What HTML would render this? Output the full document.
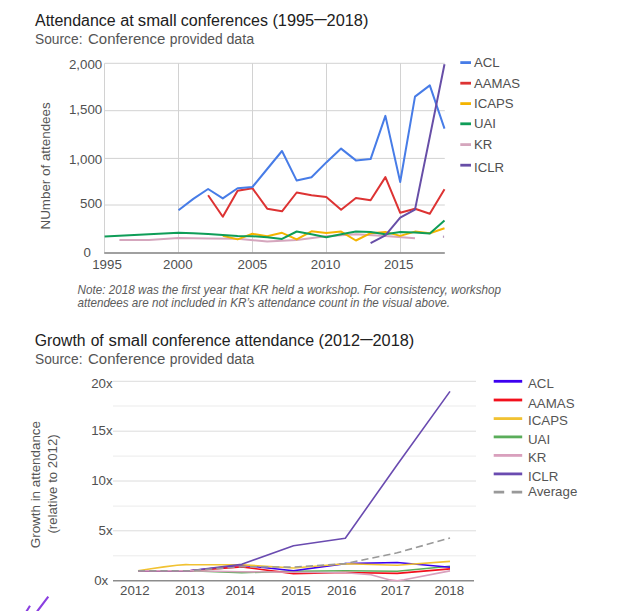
<!DOCTYPE html>
<html><head><meta charset="utf-8"><title>Attendance at small conferences</title>
<style>
html,body{margin:0;padding:0;background:#fff;}
body{width:632px;height:611px;overflow:hidden;position:relative;font-family:"Liberation Sans",sans-serif;}
svg{position:absolute;left:0;top:0;display:block;}
text{font-family:"Liberation Sans",sans-serif;}
.t{font-size:16px;fill:#212121;}
.s{font-size:14px;fill:#555;}
.ax{font-size:13.3px;fill:#505050;}
.lg{font-size:13.2px;fill:#505050;}
.lg2{font-size:13.3px;fill:#555;}
.yt{font-size:12.3px;fill:#555;}
.note{font-size:12.2px;fill:#5c5c5c;font-style:italic;}
.g1{stroke:#d2d2d2;stroke-width:1;fill:none;}
.g2{stroke:#e3e3e3;stroke-width:1;fill:none;}
.ln{fill:none;stroke-width:2;stroke-linejoin:round;stroke-linecap:butt;}
.ln2{fill:none;stroke-width:1.6;stroke-linejoin:round;stroke-linecap:butt;}
</style></head><body>
<svg width="632" height="611" viewBox="0 0 632 611">
<rect width="632" height="611" fill="#fff"/>

<!-- chart 1 titles -->
<text class="t" y="26.2" lengthAdjust="spacingAndGlyphs"><tspan x="35" textLength="80.6" lengthAdjust="spacingAndGlyphs">Attendance</tspan> <tspan x="120.2" textLength="13.6" lengthAdjust="spacingAndGlyphs">at</tspan> <tspan x="137.8" textLength="39" lengthAdjust="spacingAndGlyphs">small</tspan> <tspan x="180.8" textLength="87.2" lengthAdjust="spacingAndGlyphs">conferences</tspan> <tspan x="272.4" textLength="41.8" lengthAdjust="spacingAndGlyphs">(1995</tspan><tspan x="314.2" dy="-1.9" textLength="12.4" lengthAdjust="spacingAndGlyphs">—</tspan><tspan dy="1.9" x="326.6" textLength="41.8" lengthAdjust="spacingAndGlyphs">2018)</tspan></text>
<text class="s" y="44.2"><tspan x="35" textLength="47.5" lengthAdjust="spacingAndGlyphs">Source:</tspan> <tspan x="88" textLength="77.4" lengthAdjust="spacingAndGlyphs">Conference</tspan> <tspan x="169.8" textLength="52.8" lengthAdjust="spacingAndGlyphs">provided</tspan> <tspan x="226.4" textLength="27.8" lengthAdjust="spacingAndGlyphs">data</tspan></text>

<!-- chart 1 grid -->
<g class="g1">
<path d="M104.6 63.3H444.8M104.6 110.7H444.8M104.6 158.4H444.8M104.6 205H444.8"/>
<path d="M104.5 63.3V252.5M178.5 63.3V252.5M252.5 63.3V252.5M326.5 63.3V252.5M400.5 63.3V252.5"/>
</g>
<path d="M104.2 253H444.8" stroke="#808080" stroke-width="1.5" fill="none"/>

<!-- chart 1 y labels -->
<g class="ax" text-anchor="end">
<text x="102.2" y="69">2,000</text>
<text x="102.2" y="113.9">1,500</text>
<text x="102.2" y="164.4">1,000</text>
<text x="102.2" y="207.6">500</text>
<text x="91" y="257.2">0</text>
</g>
<g class="ax" text-anchor="middle">
<text x="107" y="268.8">1995</text>
<text x="177.8" y="268.8">2000</text>
<text x="252.4" y="268.8">2005</text>
<text x="325.6" y="268.8">2010</text>
<text x="398.7" y="268.8">2015</text>
</g>
<text class="yt" style="font-size:13px" transform="translate(49.6 229.5) rotate(-90)" textLength="127.2" lengthAdjust="spacingAndGlyphs">NUmber of attendees</text>

<!-- chart 1 series -->
<polyline class="ln" stroke="#d5a6bd" points="119.4,239.9 148.9,239.9 178.5,238.0 208.1,238.5 237.6,238.8 267.2,241.4 296.7,240.0 326.3,236.2 355.9,234.2 385.4,235.9 415.0,238.2"/>
<path d="M443.5 235.6v2.2" stroke="#b59abc" stroke-width="1.2"/>
<polyline class="ln" stroke="#f4b400" points="222.8,235.8 237.6,239.4 252.4,233.8 267.2,236.3 282.0,232.8 296.7,239.4 311.5,231.3 326.3,233.1 341.1,231.6 355.9,240.5 370.6,233.2 385.4,231.9 400.2,235.9 415.0,231.6 429.8,233.2 444.5,228.2"/>
<polyline class="ln" stroke-width="2.2" stroke="#0f9d58" points="104.6,236.6 119.4,235.8 134.2,235.0 148.9,234.2 163.7,233.4 178.5,232.8 193.3,233.2 208.1,234.0 222.8,235.0 237.6,236.0 252.4,236.2 267.2,237.2 282.0,238.9 296.7,231.5 311.5,234.2 326.3,237.2 341.1,234.2 355.9,231.5 370.6,231.9 385.4,234.2 400.2,231.9 415.0,232.6 429.8,233.6 444.5,220.6"/>
<polyline class="ln" stroke="#dd3333" points="208.1,195.3 222.8,216.8 237.6,190.8 252.4,188.2 267.2,208.7 282.0,211.3 296.7,192.5 311.5,195.2 326.3,196.9 341.1,209.8 355.9,198.0 370.6,200.3 385.4,177.1 400.2,212.8 415.0,208.8 429.8,213.8 444.5,189.2"/>
<polyline class="ln" stroke="#477ce7" points="178.5,210.3 193.3,198.9 208.1,189.0 222.8,198.4 237.6,188.2 252.4,187.0 267.2,169.0 282.0,151.0 296.7,180.6 311.5,177.3 326.3,162.4 341.1,148.6 355.9,160.4 370.6,159.1 385.4,115.9 400.2,182.0 415.0,96.6 429.8,85.4 444.5,128.6"/>
<polyline class="ln" stroke="#674ea7" points="370.6,243.2 385.4,235.4 400.2,217.7 415.0,209.6 429.8,136.9 444.5,64.2"/>

<!-- chart 1 legend -->
<g stroke-width="2.8" fill="none">
<path d="M460.3 62.6H471" stroke="#477ce7"/>
<path d="M460.3 83.2H471" stroke="#dd3333"/>
<path d="M460.3 103.6H471" stroke="#f4b400"/>
<path d="M460.3 123.8H471" stroke="#0f9d58"/>
<path d="M460.3 144.6H471" stroke="#d5a6bd"/>
<path d="M460.3 165.2H471" stroke="#674ea7"/>
</g>
<g class="lg">
<text x="474" y="67.1">ACL</text>
<text x="474" y="87.7">AAMAS</text>
<text x="474" y="108.1">ICAPS</text>
<text x="474" y="128.3">UAI</text>
<text x="474" y="149.1">KR</text>
<text x="474" y="171.5">ICLR</text>
</g>

<!-- note -->
<text class="note" x="77.5" y="293.6" textLength="423.5" lengthAdjust="spacingAndGlyphs">Note: 2018 was the first year that KR held a workshop. For consistency, workshop</text>
<text class="note" x="77.5" y="306.9" textLength="372.5" lengthAdjust="spacingAndGlyphs">attendees are not included in KR’s attendance count in the visual above.</text>

<!-- chart 2 titles -->
<text class="t" y="346.2"><tspan x="34.8" textLength="50.8" lengthAdjust="spacingAndGlyphs">Growth</tspan> <tspan x="90.7" textLength="13" lengthAdjust="spacingAndGlyphs">of</tspan> <tspan x="108.6" textLength="39" lengthAdjust="spacingAndGlyphs">small</tspan> <tspan x="152.1" textLength="78.4" lengthAdjust="spacingAndGlyphs">conference</tspan> <tspan x="235.1" textLength="79" lengthAdjust="spacingAndGlyphs">attendance</tspan> <tspan x="318.6" textLength="41.4" lengthAdjust="spacingAndGlyphs">(2012</tspan><tspan x="360.2" dy="-1.9" textLength="12.4" lengthAdjust="spacingAndGlyphs">—</tspan><tspan dy="1.9" x="372.5" textLength="41.8" lengthAdjust="spacingAndGlyphs">2018)</tspan></text>
<text class="s" y="364.2"><tspan x="35" textLength="47.5" lengthAdjust="spacingAndGlyphs">Source:</tspan> <tspan x="88" textLength="77.4" lengthAdjust="spacingAndGlyphs">Conference</tspan> <tspan x="169.8" textLength="52.8" lengthAdjust="spacingAndGlyphs">provided</tspan> <tspan x="226.4" textLength="27.8" lengthAdjust="spacingAndGlyphs">data</tspan></text>

<!-- chart 2 grid -->
<path d="M113 406H476M113 456.1H476M113 506.1H476M113 555.8H476" stroke="#ebebeb" stroke-width="1" fill="none"/>
<path d="M113 381.3H476M113 431.2H476M113 481H476M113 530.8H476" stroke="#dcdcdc" stroke-width="1" fill="none"/>
<path d="M113 580.7H474" stroke="#8c8c8c" stroke-width="1.6" fill="none"/>

<g class="ax" text-anchor="end" fill="#444">
<text x="112.6" y="388.2">20x</text>
<text x="112.6" y="434.8">15x</text>
<text x="112.6" y="484.8">10x</text>
<text x="112.6" y="534.8">5x</text>
<text x="108.2" y="585">0x</text>
</g>
<g class="ax" text-anchor="middle">
<text x="134.8" y="595.1">2012</text>
<text x="189.8" y="595.1">2013</text>
<text x="240.2" y="595.1">2014</text>
<text x="296.1" y="595.1">2015</text>
<text x="341.7" y="595.1">2016</text>
<text x="395.5" y="595.1">2017</text>
<text x="449.3" y="595.1">2018</text>
</g>
<text class="yt" transform="translate(40.1 548.2) rotate(-90)" textLength="127.2" lengthAdjust="spacingAndGlyphs">Growth in attendance</text>
<text class="yt" transform="translate(56.6 533.6) rotate(-90)" textLength="99.3" lengthAdjust="spacingAndGlyphs">(relative to 2012)</text>

<!-- chart 2 series -->
<polyline class="ln2" stroke="#5aad5a" points="138.0,570.7 189.8,570.7 241.7,572.7 293.5,571.2 345.3,570.7 397.2,571.3 450.0,566.2"/>
<polyline class="ln2" stroke="#3c00f0" points="138.0,570.7 189.8,570.7 241.7,565.2 293.5,570.7 345.3,563.6 397.2,562.5 450.0,567.2"/>
<polyline class="ln2" stroke="#f2101c" points="138.0,570.7 189.8,570.7 241.7,566.9 293.5,573.6 345.3,572.5 397.2,573.4 450.0,568.9"/>
<polyline class="ln2" stroke="#f1c232" points="138,570.7 151,568.7 164,566.9 177,565.3 186,564.6 189.8,564.7 241.7,564.7 293.5,568.0 345.3,563.7 397.2,565.2 450.0,561.4"/>
<polyline class="ln2" stroke="#6a4bb0" points="138.0,570.7 189.8,570.7 241.7,564.3 293.5,545.8 345.3,538.2 397.2,464.8 450.0,391.4"/>
<polyline class="ln2" stroke="#d9a0bd" stroke-width="1.4" points="138.0,570.7 189.8,570.7 241.7,571.7 293.5,572.2 345.3,572.7 371,574.7 390,579.9 397.2,580.7 404,579.7 450,570.9"/>
<polyline class="ln2" stroke="#999" stroke-dasharray="7.2 4" points="138.0,570.7 189.8,570.7 241.7,566.7 293.5,567.1 345.3,563.6 397.2,552.8 450.0,538.0"/>

<!-- chart 2 legend -->
<g stroke-width="2.8" fill="none">
<path d="M493.7 381.3H522.2" stroke="#3c00f0"/>
<path d="M493.7 400H522.2" stroke="#f2101c"/>
<path d="M493.7 418.6H522.2" stroke="#f1c232"/>
<path d="M493.7 436.9H522.2" stroke="#5aad5a"/>
<path d="M493.7 455.4H522.2" stroke="#d9a0bd"/>
<path d="M493.7 473.9H522.2" stroke="#6a4bb0"/>
<path d="M493.7 492.2H522.2" stroke="#999" stroke-dasharray="10.5 7.5"/>
</g>
<g class="lg2">
<text x="528" y="387.7">ACL</text>
<text x="528" y="407.7">AAMAS</text>
<text x="528" y="425">ICAPS</text>
<text x="528" y="444.2">UAI</text>
<text x="528" y="461.8">KR</text>
<text x="528" y="480.5">ICLR</text>
<text x="528" y="496">Average</text>
</g>

<!-- stray strokes bottom-left -->
<path d="M48.3 596.6L37.1 611.5M30 605.8L26.4 611.5" stroke="#8a3fe0" stroke-width="2.1" fill="none"/>
</svg>
</body></html>
